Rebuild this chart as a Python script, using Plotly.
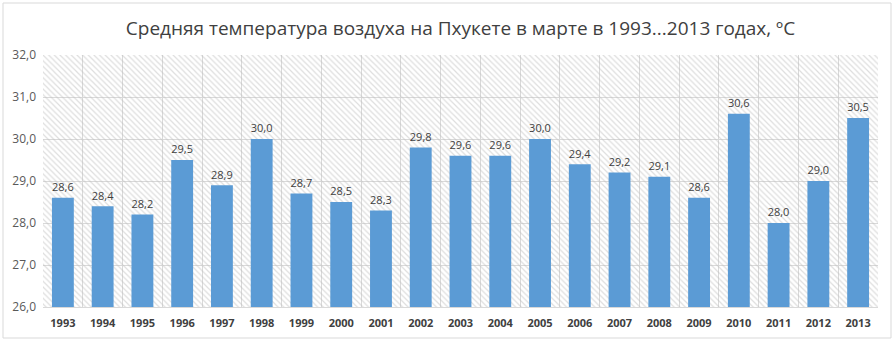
import plotly.graph_objects as go

years = list(range(1993, 2014))
temps = [28.6, 28.4, 28.2, 29.5, 28.9, 30.0, 28.7, 28.5, 28.3, 29.8,
         29.6, 29.6, 30.0, 29.4, 29.2, 29.1, 28.6, 30.6, 28.0, 29.0, 30.5]
y_min, y_max = 26.0, 32.0
title = "Средняя температура воздуха на Пхукете в марте в 1993...2013 годах, ºC"

W, H = 895, 343
L, R, T, B = 43, 17, 55, 36

x0, x1 = years[0] - 0.5, years[-1] + 0.5

fig = go.Figure()
# hatched plot background (one full-width bar under the data bars)
fig.add_trace(go.Bar(
    x=[(x0 + x1) / 2], y=[y_max - y_min], base=y_min, width=x1 - x0,
    marker=dict(color="rgba(0,0,0,0)", line=dict(width=0),
                pattern=dict(shape="\\", fgcolor="#bdbdbd", bgcolor="rgba(0,0,0,0)",
                             size=4, solidity=0.3, fillmode="overlay")),
    hoverinfo="skip", showlegend=False,
))
fig.add_trace(go.Bar(
    x=years, y=[t - y_min for t in temps], base=y_min,
    customdata=temps,
    width=0.55, marker=dict(color="#5B9BD5", line=dict(width=0)),
    texttemplate="%{customdata:.1f}", textposition="outside",
    textfont=dict(size=12, color="#404040", family="Open Sans"),
    cliponaxis=False, showlegend=False,
))

ph = H - T - B
pw = W - L - R
fig.add_shape(type="rect", xref="paper", yref="paper",
              x0=(3 - L) / pw, x1=(891 - L) / pw,
              y0=(H - B - 338) / ph, y1=(H - B - 3) / ph,
              line=dict(color="#d9d9d9", width=1), layer="below")

fig.update_layout(
    width=W, height=H, margin=dict(l=L, r=R, t=T, b=B),
    paper_bgcolor="white", plot_bgcolor="white",
    separators=", ",
    barmode="overlay",
    font=dict(family="Open Sans", color="#595959"),
    title=dict(text=title, x=0.5, xanchor="center", y=1 - 28 / H, yanchor="middle",
               xref="paper",
               font=dict(size=19, color="#404040", family="Open Sans")),
    xaxis=dict(range=[x0, x1], tickmode="array", tickvals=years,
               ticktext=["<b>%d</b>" % y for y in years], showgrid=False,
               tickfont=dict(size=11, color="#404040", family="Open Sans"),
               ticks="", ticklabelstandoff=6,
               showline=True, linecolor="#d9d9d9", zeroline=False,
               minor=dict(tickmode="linear", tick0=x0, dtick=1, showgrid=True,
                          gridcolor="#d9d9d9", gridwidth=1, ticks="")),
    yaxis=dict(range=[y_min, y_max], tickmode="linear", tick0=y_min, dtick=1,
               tickformat=".1f", showgrid=True, gridcolor="#d9d9d9",
               zeroline=False, ticks="", showline=False, ticklabelstandoff=6,
               tickfont=dict(size=12, color="#595959", family="Open Sans")),
)

fig.write_html("out.html")
